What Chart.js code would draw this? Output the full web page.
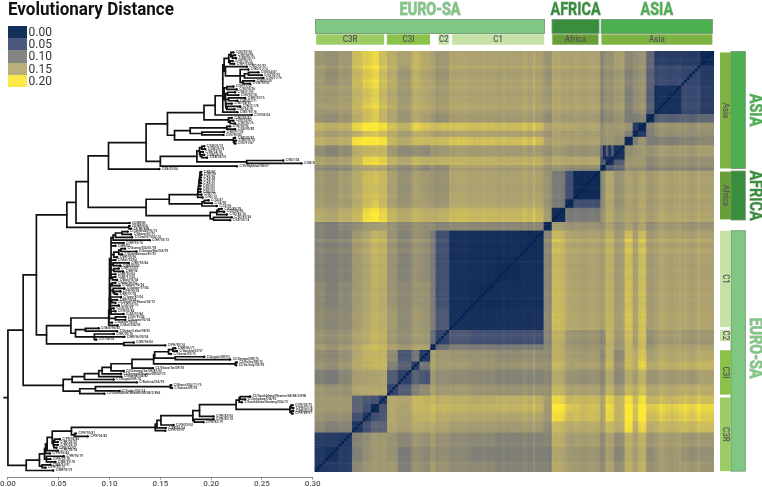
<!DOCTYPE html>
<html>
<head>
<meta charset="utf-8">
<title>Evolutionary Distance</title>
<script src="https://cdn.jsdelivr.net/npm/chart.js@4/dist/chart.umd.min.js"></script>
<style>
    html, body { margin: 0; padding: 0; background: #fff; }
    body { width: 762px; height: 487px; position: relative; overflow: hidden; font-family: Roboto, sans-serif; }
    canvas { position: absolute; top: 0; }
    #tree-chart { left: 0; }
    #heat-chart { left: 305px; }
    #title { position: absolute; left: 8px; top: -2px; font: bold 18px Roboto, sans-serif; color: #111; white-space: nowrap; transform: scaleX(.945); transform-origin: left top; }
    #key { position: absolute; left: 8px; top: 26px; }
    .key-row { height: 12.2px; position: relative; }
    .key-swatch { position: absolute; left: 0; top: 0; width: 19px; height: 12.2px; opacity: .92; }
    .key-text { position: absolute; left: 20.5px; top: -1px; font: 12px/14px Roboto, sans-serif; color: #333; }
</style>
</head>
<body>
<canvas id="tree-chart" width="330" height="487"></canvas>
<canvas id="heat-chart" width="457" height="487"></canvas>
<div id="title">Evolutionary Distance</div>
<div id="key"></div>
<script>
// colour key
const keyValues = [0, 0.05, 0.1, 0.15, 0.2];
const keyColors = ["#00204d", "#3b4a72", "#7b7b78", "#b3a870", "#fde737"];
// the heatmap ramp has one more stop between tan and yellow
const rampValues = [0, 0.05, 0.1, 0.15, 0.175, 0.2];
const rampColors = ["#00204d", "#3b4a72", "#7b7b78", "#b0a56f", "#cbbb5e", "#fde737"];

// x axis of the tree
const treeTicks = [0, 0.05, 0.1, 0.15, 0.2, 0.25, 0.3];
const rootStem = -0.0045;

// tree nodes, preorder from top to bottom: depth in the tree and distance from the root
const asiaLevels = [0,1,2,3,4,5,6,7,8,9,10,11,12,13,14,15,16,16,17,17,15,16,16,14,15,15,16,16,17,18,18,17,16,17,17,13,14,15,15,14,15,16,16,15,16,16,15,16,16,17,17,12,11,10,11,11,12,12,9,10,11,12,12,11,12,12,10,11,11,12,12,8,9,10,11,12,12,11,12,12,13,13,10,11,11,9,7];
const asiaDists = [0,.015,.028,.058,.067,.079,.099,.136,.157,.193,.204,.2115,.2115,.2128,.2174,.2194,.222,.221,.2236,.2246,.2187,.2213,.2227,.2141,.2351,.2286,.2367,.2328,.2367,.2466,.2498,.2515,.2312,.2423,.2384,.2128,.2155,.222,.2253,.2141,.2161,.2236,.2269,.2171,.2335,.2259,.2145,.2204,.2155,.2286,.223,.2259,.24,.2171,.2204,.2187,.222,.2236,.164,.1794,.2155,.2187,.2236,.1909,.2128,.2122,.222,.2236,.2227,.2246,.224,.15,.186,.1886,.1909,.1932,.1942,.1893,.1919,.1906,.1932,.196,.235,.271,.289,.2253,.149];
const africaLevels = [6,7,8,9,10,11,12,13,14,15,16,17,17,16,15,14,13,12,11,10,9,8,9,10,10,9,7,8,9,10,10,9,8,9,9];
const africaDists = [.136,.1588,.1867,.187,.1873,.1877,.188,.1883,.1886,.189,.1893,.1903,.1906,.19,.19,.19,.1896,.1896,.1896,.1906,.1916,.191,.1932,.1975,.2007,.2056,.1991,.2056,.2073,.2105,.2128,.2155,.2024,.2204,.2187];
const c1Levels = [5,4,5,5,3,4,5,6,7,8,9,10,11,12,13,13,12,11,10,10,10,11,12,13,13,12,11,10,10,11,11,10,11,11,10,10,11,11,9,10,11,11,10,11,11,12,12,10,10,11,11,10,10,11,11,11,8,9,9,7,6,5,6,7,7,6,7,7,7,4,5,5];
const c1Dists = [.1198,.119,.1198,.1212,.038,.062,.0992,.0995,.0998,.1,.1015,.1035,.1058,.1123,.1179,.1212,.1222,.1396,.1139,.1058,.1042,.1091,.1113,.1153,.1264,.1123,.1074,.1058,.1035,.1189,.1107,.1042,.1091,.1133,.1058,.1029,.1058,.1074,.1009,.1025,.1058,.11,.1035,.1146,.1048,.1107,.1074,.1113,.1022,.1074,.1058,.1091,.1015,.1042,.1058,.1139,.1058,.1156,.1156,.1025,.1081,.0665,.0763,.0894,.1074,.0851,.1042,.1146,.087,.114,.1238,.1549];
const c3iLevels = [2,3,4,5,6,7,8,9,10,11,12,13,13,12,11,12,12,10,11,11,9,8,7,6,5,4,3,4,5,6,6,5,4];
const c3iDists = [.0544,.0632,.0753,.0894,.0927,.1015,.1221,.1434,.1444,.1581,.1624,.1647,.1663,.1605,.1647,.1932,.2187,.224,.2253,.2246,.1428,.114,.1113,.1117,.1041,.127,.0707,.0861,.1598,.1607,.1614,.11,.095];
const c3rLevels = [1,2,3,4,5,6,7,8,9,10,11,12,13,14,15,16,16,15,14,15,16,16,15,16,16,13,12,13,13,11,10,9,8,9,9,7,8,9,9,8,9,9,6,5,4,5,5,5,3,4,4,2];
const c3rDists = [.018,.031,.036,.037,.0386,.0436,.0625,.145,.1467,.1506,.182,.1886,.2246,.2276,.2286,.2384,.2335,.2302,.2777,.2787,.2803,.2809,.279,.2809,.2803,.2024,.1834,.2024,.1925,.1631,.1555,.1549,.0655,.0668,.0786,.0445,.0458,.0511,.0491,.0452,.0491,.0478,.0491,.0413,.0379,.055,.0419,.0468,.0337,.0419,.037,.0445];

// tip labels, top to bottom (very small in the picture, read as well as possible)
const asiaTips = ["C/IN/93/94","C/IN/94/96","C/BD/95/76","C/NP/90/75","C/NP/93/96","C/BD/01/92","C/BD/01/74","C/IN/04/87","C/IN/93/92","C/IN/01/76","C/IN/07/97","C/CN/90/93","C/IN/91/92","C/IN/93/96","C/IN/01/93","C/IN/92/78","C/BD/93/75","C/BD/01/71","C/BD/94/92","C/IN/01/78","C/IN/94/78","C/BD/90/76","C/IN/03/04","C/BD/97/81","C/IN/93/82","C/IN/95/76","C/IN/90/92","C/SG/90/82","C/BD/91/78","C/IN/90/82","C/BD/92/87","C/BD/93/76","C/IN/91/87","C/SB/25/73","C/SB/25/74","C/SB/24/78","C/SB/25/79","C/SB/24/76","C/BS/104","C/SB/304","C/IN/Rajbhnar/08/67","C/IN/03/04"];
const africaTips = ["C/KE/87","C/KE/94","C/KE/96","C/KE/99","C/KE/01","C/KE/02","C/KE/03","C/KE/04","C/KE/79","C/KE/74","C/ZA/87","C/ZA/90","C/ZA/96","C/SD/82/79","C/SD/84/96","C/SD/85/76","C/SD/87/94","C/SD/93/74"];
const c1Tips = ["C6/BR/85","C8/BR/85A","C8/BR/85B","C/Cameroon/95/73","C/Ghana/87/91","C/Chad/87/DIA/74","C/BR/03/73","C/BR/92/74","C/BR/03","C/Guinea/DIA/81/93","C/Guinea/Bis/DIA/92","C/Guineabissau/81/93","C/BR/90/96","C/Mali/92/84","C/BR/92/84","C/BR/90/03","C/BR/91/03","C/BR/94","C/AR/95/04","C/AR/91/04","C/Mali/93/04","C/Mali/96/04","C/Gabon/96/94","C/Gabon/97/04","C/FR/90/03","C/BR/97/03","C/Ivory/81/04","C/BR/90/78","C/Congo/UG/Rhone/03/72","C/UG/03/76","C/UG/95/92","C/FR/03/84","C/AR/01/84","C/UK/95/04","C/Guinea/92/04","C/Guinea/93/04","C/Mali/DIA/03","C/Mali/96/83","C/Gabon/Lebre/98/81","C/BR/90/76","C/BR/96/00/04","C/IT/96/03","C/BR/96/04","C/PH/90/74","C/BR/85/77","C/Gambia/03/97","C/Liberia/03/75"];
const c3iTips = ["C/Angola/DR/93","C3/Senegal/DR/75","C3/Ita/Ita/DR/75","C3/Ita/Italy/DR/92","C3/Ghana/Ita/DR/92","C3/Senegal/Ita/DR/82/93","C3/Senegal/Nigeria/DR/82/75","C/Nigeria/DIA/82","C1/Angola/DR/74","C/Burkina/DIA/92","C/Ghana/DIA/71/75","C/Guinea/DR/93","C/Sudan/DIA/74","C3/SouthAfrica/Western/88/88/2/89A","C3/SouthAfrica/Western/88/88/2/89B","C/Zimbabwe/DIA/95","C/SouthAfrica/Gauteng/DIA/73"];
const c3rTips = ["C/PR/03/79","C/PR/03/78","C/PR/95/78","C/PR/82/91","C/PR/82/94","C/PR/82/74","C/PR/82/79","C/PR/03/04","C/PR/03/74","C/PR/93/97","C/PR/93/81","C/PR/03/82","C/PR/03/84","C/BR/03/92","C/PR/03/78","C/PR/93/92","C/PR/93/78","C/PR/95/84","C/PR/95/79","C/PR/92/78","C/BR/92/78","C/BR/91/91","C/PR/92/73","C/BR/92/79","C/PR/93/75","C/BR/92/87","C/PR/91/91"];

// heatmap: groups of neighbouring tips, top to bottom, and how many tips each holds
const groupNames = ["A1","A2","A3","A4","A5","A6","A7","A8","A9","A10","F1","F2","F3","B","C1a","C1b","C1c","C1d","C1e","C2","I1","I2","I3","I4","R1","R2","R3","R4","Z1","Z2","Z3"];
const groupSizes = [5,7,10,3,3,2,3,4,3,2,10,3,5,3,9,9,9,8,5,2,4,3,5,4,3,3,3,4,5,5,4];

// distance between groups, one row per group starting at its own diagonal
const groupDist = [
    [.012,.032,.035,.085,.125,.125,.11,.145,.125,.12,.145,.145,.145,.135,.145,.145,.145,.145,.13,.14,.155,.165,.15,.155,.17,.19,.185,.18,.135,.125,.13],
    [.045,.05,.08,.125,.125,.105,.14,.125,.12,.145,.145,.145,.135,.145,.145,.145,.145,.13,.14,.15,.16,.14,.155,.17,.19,.185,.175,.135,.125,.135],
    [.02,.075,.125,.125,.1,.14,.125,.12,.145,.145,.145,.14,.145,.145,.145,.145,.135,.14,.15,.155,.14,.15,.165,.185,.18,.17,.14,.135,.135],
    [.015,.11,.11,.1,.135,.12,.115,.14,.14,.14,.13,.14,.14,.14,.14,.125,.13,.145,.155,.14,.15,.165,.185,.18,.165,.135,.125,.13],
    [.012,.03,.12,.135,.13,.125,.145,.15,.145,.15,.17,.17,.17,.17,.17,.165,.175,.18,.165,.17,.185,.2,.2,.19,.16,.155,.16],
    [.012,.1,.135,.135,.13,.14,.14,.14,.135,.145,.145,.145,.145,.14,.14,.155,.155,.145,.155,.17,.18,.18,.165,.145,.14,.145],
    [.012,.12,.125,.125,.14,.14,.14,.145,.17,.17,.17,.17,.165,.16,.165,.165,.155,.16,.185,.2,.2,.195,.155,.15,.155],
    [.02,.07,.09,.13,.13,.135,.135,.14,.14,.14,.14,.135,.13,.12,.125,.125,.135,.165,.17,.17,.165,.125,.115,.125],
    [.02,.07,.15,.15,.15,.15,.16,.16,.16,.16,.16,.155,.16,.165,.155,.16,.18,.19,.19,.175,.145,.14,.145],
    [.015,.125,.125,.13,.135,.145,.145,.145,.145,.12,.125,.12,.13,.125,.13,.15,.155,.155,.15,.125,.12,.125],
    [.012,.055,.095,.135,.145,.145,.145,.145,.125,.125,.135,.14,.13,.14,.165,.175,.175,.16,.14,.13,.135],
    [.012,.095,.135,.15,.15,.15,.15,.13,.13,.14,.14,.135,.14,.165,.18,.175,.16,.14,.135,.14],
    [.012,.14,.165,.165,.165,.165,.155,.15,.155,.16,.155,.16,.18,.195,.19,.17,.155,.145,.15],
    [.015,.12,.12,.12,.12,.115,.12,.125,.13,.125,.13,.14,.14,.14,.13,.12,.11,.115],
    [.015,.018,.018,.02,.055,.095,.12,.125,.115,.125,.155,.165,.15,.14,.11,.105,.11],
    [.015,.018,.02,.055,.095,.12,.125,.115,.125,.155,.165,.15,.14,.11,.105,.11],
    [.015,.018,.055,.095,.125,.125,.12,.125,.15,.16,.15,.14,.115,.105,.115],
    [.018,.06,.095,.125,.13,.12,.13,.15,.16,.15,.14,.115,.11,.115],
    [.04,.08,.13,.13,.125,.13,.155,.165,.155,.15,.125,.12,.125],
    [.015,.14,.14,.135,.14,.16,.17,.165,.155,.135,.125,.135],
    [.03,.09,.065,.115,.16,.165,.165,.155,.125,.115,.12],
    [.035,.075,.1,.16,.165,.16,.155,.13,.12,.125],
    [.045,.07,.15,.15,.15,.15,.12,.105,.11],
    [.04,.145,.15,.15,.15,.125,.125,.13],
    [.03,.055,.06,.075,.13,.13,.13],
    [.012,.055,.08,.135,.135,.135],
    [.03,.06,.125,.125,.13],
    [.03,.115,.11,.12],
    [.03,.035,.035],
    [.022,.03],
    [.025]
];

// small per-tip offset read from the thin streaks running through the heatmap
const tipShift = [
    0,0,0,0,0,.008,0,-.004,-.004,0,.004,0,.006,0,0,-.004,0,0,.004,.008,0,-.004,
    -.004,-.004,-.004,.004,.006,.002,-.002,-.002,.004,.006,.006,0,-.004,-.004,-.002,0,0,.004,0,-.01,
    0,0,.002,.002,0,-.002,-.002,0,.004,.002,-.002,0,.002,0,.004,.006,.004,.008,-.01,-.006,-.004,
    -.002,0,-.002,.012,0,-.002,.006,.006,-.002,0,0,0,-.002,0,.002,0,-.002,0,.002,.002,0,.002,.004,0,.002,0,.002,
    .002,.004,.006,.004,.006,.004,.002,.006,.002,.004,.004,.002,-.002,.004,.006,
    0,0,.002,.004,.004,.006,0,-.004,-.006,-.006,-.004,-.006,0,.004,.004,.002,
    .006,.006,.004,.002,.002,0,0,-.002,0,-.002,-.004,-.004,-.006,
    0,-.002,-.002,0,.002,0,0,-.002,0,0,0,.002,0,0
];
// the dark vertical bars under the Asian clades: these rows stay close to these columns
const nearRows = [33, 34, 35, 36, 37];
const nearCols = [33, 34, 35, 36, 38, 40];
const nearDist = 0.02;
const selfDist = 0.004;

// annotation strips, in tip units along the heatmap
const topRegions = ["EURO-SA", "AFRICA", "ASIA"];
const topRegionFrom = [0.4, 88, 106.2];
const topRegionTo = [85.2, 105.4, 147.4];
const topClades = ["C3R", "C3I", "C2", "C1", "Africa", "Asia"];
const topCladeFrom = [0.6, 26.8, 45.9, 51, 88.1, 106.3];
const topCladeTo = [25.8, 42.8, 49.9, 85.1, 105.2, 147.4];
const sideRegions = ["ASIA", "AFRICA", "EURO-SA"];
const sideRegionFrom = [0.2, 42.2, 63.2];
const sideRegionTo = [41.3, 59.4, 147.7];
const sideClades = ["Asia", "Africa", "C1", "C2", "C3I", "C3R"];
const sideCladeFrom = [0.5, 42.4, 63.2, 98, 105.2, 121.8];
const sideCladeTo = [41.3, 59.2, 97.1, 102, 120.8, 147.7];

const regionColors = { "EURO-SA": "#7fc783", "AFRICA": "#388e3c", "ASIA": "#4caf50" };
const cladeColors = { "C3R": "#9ccc65", "C3I": "#8bc34a", "C2": "#c5e1a5", "C1": "#c5e1a5", "Africa": "#689f38", "Asia": "#7cb342" };

function hexToRgb(hex) {
    return [1, 3, 5].map(i => parseInt(hex.slice(i, i + 2), 16));
}

function distColor(value) {
    let i = rampValues.length - 2;
    while (i > 0 && value < rampValues[i]) i--;
    const t = Math.max(0, Math.min((value - rampValues[i]) / (rampValues[i + 1] - rampValues[i]), 1));
    const a = hexToRgb(rampColors[i]);
    const b = hexToRgb(rampColors[i + 1]);
    const c = a.map((v, k) => Math.round(v + (b[k] - v) * t));
    return `rgb(${c[0]},${c[1]},${c[2]})`;
}

keyValues.forEach((value, i) => {
    const row = document.createElement("div");
    row.className = "key-row";
    row.innerHTML = `<div class="key-swatch" style="background:${keyColors[i]}"></div><div class="key-text">${value.toFixed(2)}</div>`;
    document.getElementById("key").appendChild(row);
});

// ---------- tree ----------
function buildTree() {
    const levels = [...asiaLevels, ...africaLevels, ...c1Levels, ...c3iLevels, ...c3rLevels];
    const dists = [...asiaDists, ...africaDists, ...c1Dists, ...c3iDists, ...c3rDists];
    const names = [...asiaTips, ...africaTips, ...c1Tips, ...c3iTips, ...c3rTips];
    const nodes = levels.map((level, i) => ({ level, x: dists[i], y: 0, children: [], parent: null }));
    const stack = [];
    let row = 0;
    nodes.forEach((node, i) => {
        node.parent = node.level > 0 ? stack[node.level - 1] : null;
        if (node.parent) node.parent.children.push(node);
        stack[node.level] = node;
        node.tip = i === nodes.length - 1 || levels[i + 1] <= node.level;
        if (node.tip) {
            node.y = row + 0.5;
            node.name = names[row];
            row++;
        }
    });
    for (let i = nodes.length - 1; i >= 0; i--) {
        const node = nodes[i];
        if (!node.tip) node.y = node.children.reduce((sum, c) => sum + c.y, 0) / node.children.length;
    }
    return nodes;
}

const treeNodes = buildTree();
const edgePoints = [];
treeNodes.forEach(node => {
    if (node.parent) {
        edgePoints.push({ x: node.parent.x, y: node.parent.y }, { x: node.parent.x, y: node.y }, { x: node.x, y: node.y }, { x: NaN, y: NaN });
    } else {
        edgePoints.push({ x: rootStem, y: node.y }, { x: node.x, y: node.y }, { x: NaN, y: NaN });
    }
});

const tipLabelPlugin = {
    id: "tipLabels",
    afterDatasetsDraw(chart) {
        const { ctx, scales: { x, y } } = chart;
        ctx.save();
        ctx.font = "500 3.1px Roboto, sans-serif";
        ctx.fillStyle = "#222";
        ctx.textBaseline = "middle";
        treeNodes.filter(n => n.tip).forEach(n => {
            ctx.fillText(n.name, x.getPixelForValue(n.x) + 2.6, y.getPixelForValue(n.y));
        });
        ctx.restore();
    }
};

new Chart(document.getElementById("tree-chart"), {
    type: "scatter",
    data: {
        datasets: [
            { data: edgePoints, showLine: true, borderColor: "#111", borderWidth: 1.7, pointRadius: 0, spanGaps: false, clip: false, tension: 0 },
            { data: treeNodes.filter(n => n.tip).map(n => ({ x: n.x, y: n.y })), pointRadius: 1.2, backgroundColor: "#000", borderWidth: 0 },
            { data: treeNodes.filter(n => !n.tip).map(n => ({ x: n.x, y: n.y })), pointRadius: 1.1, backgroundColor: "#e8575c", borderWidth: 0, clip: false }
        ]
    },
    plugins: [tipLabelPlugin],
    options: {
        responsive: false,
        animation: false,
        layout: { padding: { left: 7.3, right: 17.3, top: 51, bottom: 0 } },
        plugins: { legend: { display: false }, tooltip: { enabled: false } },
        scales: {
            x: {
                type: "linear",
                min: treeTicks[0],
                max: treeTicks[treeTicks.length - 1],
                grid: { drawOnChartArea: false, drawTicks: true, tickLength: 2, color: "#888" },
                border: { color: "#888", width: 1 },
                afterFit: scale => { scale.height = 9.4; },
                afterBuildTicks: scale => { scale.ticks = treeTicks.map(value => ({ value })); },
                ticks: { maxRotation: 0, padding: 0, color: "#555", font: { family: "Roboto", size: 8, weight: "500" }, callback: value => value.toFixed(2) }
            },
            y: { type: "linear", min: 0, max: 150, reverse: true, display: false }
        }
    }
});

// ---------- heatmap ----------
const tipCount = groupSizes.reduce((a, b) => a + b, 0);
const tipGroup = groupSizes.flatMap((size, g) => Array(size).fill(g));
const tipIndex = Array.from({ length: tipCount }, (_, i) => i);

function tipDistance(row, col) {
    if (row === col) return selfDist;
    if (nearRows.includes(row) && nearCols.includes(col)) return nearDist;
    const i = Math.min(tipGroup[row], tipGroup[col]);
    const j = Math.max(tipGroup[row], tipGroup[col]);
    const base = groupDist[i][j - i];
    return Math.max(selfDist, base + (tipShift[row] + tipShift[col]) * Math.min(1, base / 0.08));
}

// one stacked dataset per row, columns run from the last tip to the first
const heatDatasets = tipIndex.map(row => ({
    label: String(row),
    data: tipIndex.map(() => 1),
    backgroundColor: tipIndex.map(c => distColor(tipDistance(row, tipCount - 1 - c))),
    borderWidth: 0,
    barPercentage: 1,
    categoryPercentage: 1,
    stack: "rows"
}));

function drawLabel(ctx, text, cx, cy, rotated, font, squeeze, fill, stroke) {
    ctx.save();
    ctx.translate(cx, cy);
    if (rotated) ctx.rotate(Math.PI / 2);
    ctx.scale(squeeze, 1);
    ctx.font = font;
    ctx.textAlign = "center";
    ctx.textBaseline = "middle";
    if (stroke) {
        ctx.strokeStyle = stroke;
        ctx.lineWidth = 1;
        ctx.strokeText(text, 0, 0);
    }
    ctx.fillStyle = fill;
    ctx.fillText(text, 0, 0);
    ctx.restore();
}

const stripPlugin = {
    id: "strips",
    afterDatasetsDraw(chart) {
        const { ctx, scales: { x, y } } = chart;
        const xAt = v => x.getPixelForValue(v - 0.5);
        const bigFont = "bold 18px Roboto, sans-serif";
        const smallFont = "500 9px Roboto, sans-serif";

        topRegions.forEach((name, i) => {
            const left = xAt(topRegionFrom[i]);
            const right = xAt(topRegionTo[i]);
            ctx.fillStyle = regionColors[name];
            ctx.strokeStyle = "#6f8f73";
            ctx.lineWidth = 0.8;
            ctx.fillRect(left, 19.5, right - left, 14);
            ctx.strokeRect(left, 19.5, right - left, 14);
            drawLabel(ctx, name, (left + right) / 2, 10, false, bigFont, 0.8, regionColors[name], "#b4c4b6");
        });
        topClades.forEach((name, i) => {
            const left = xAt(topCladeFrom[i]);
            const right = xAt(topCladeTo[i]);
            ctx.fillStyle = cladeColors[name];
            ctx.fillRect(left, 34.3, right - left, 10.4);
            drawLabel(ctx, name, (left + right) / 2, 39.6, false, smallFont, 0.88, "#555");
        });
        sideRegions.forEach((name, i) => {
            const top = y.getPixelForValue(sideRegionFrom[i]);
            const bottom = y.getPixelForValue(sideRegionTo[i]);
            ctx.fillStyle = regionColors[name];
            ctx.strokeStyle = "#6f8f73";
            ctx.lineWidth = 0.8;
            ctx.fillRect(426, top, 14.3, bottom - top);
            ctx.strokeRect(426, top, 14.3, bottom - top);
            drawLabel(ctx, name, 449.3, (top + bottom) / 2 - (name === "EURO-SA" ? 3 : 0), true, bigFont, 0.8, regionColors[name], "#b4c4b6");
        });
        sideClades.forEach((name, i) => {
            const top = y.getPixelForValue(sideCladeFrom[i]);
            const bottom = y.getPixelForValue(sideCladeTo[i]);
            ctx.fillStyle = cladeColors[name];
            ctx.fillRect(415, top, 11, bottom - top);
            drawLabel(ctx, name, 420.7, (top + bottom) / 2, true, smallFont, 0.88, "#555");
        });
    }
};

new Chart(document.getElementById("heat-chart"), {
    type: "bar",
    data: { labels: tipIndex, datasets: heatDatasets },
    plugins: [stripPlugin],
    options: {
        responsive: false,
        animation: false,
        layout: { padding: { left: 9.5, right: 48, top: 51, bottom: 15 } },
        plugins: { legend: { display: false }, tooltip: { enabled: false } },
        scales: {
            x: { stacked: true, display: false },
            y: { stacked: true, display: false, min: 0, max: tipCount, reverse: true }
        }
    }
});
</script>
</body>
</html>
